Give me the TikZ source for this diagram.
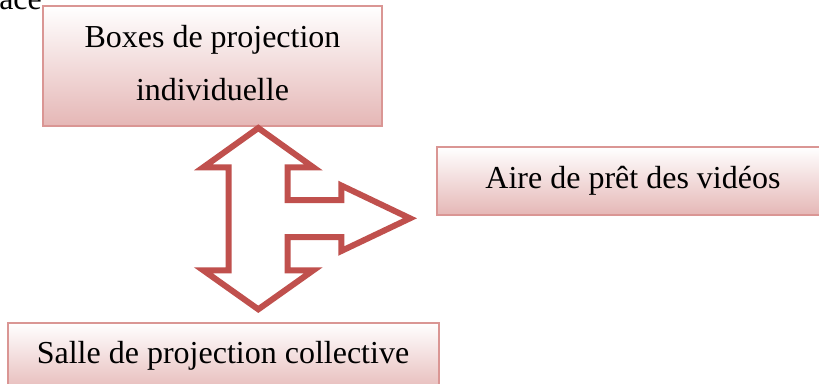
\documentclass[tikz,border=0pt]{standalone}
\usepackage{fontspec}
\setmainfont{Liberation Serif}
\definecolor{boxline}{RGB}{218,150,148}
\definecolor{boxbot}{RGB}{229,183,182}
\definecolor{arrowred}{RGB}{192,80,77}
\tikzset{
  box/.style={draw=boxline, line width=1.8pt, rectangle, inner sep=0pt,
    top color=white, bottom color=boxbot, shading angle=0},
  txt/.style={inner sep=0pt, anchor=base, font=\fontsize{24}{37}\selectfont},
  bigarrow/.style={draw=arrowred, line width=4.5pt, fill=white, line join=miter, miter limit=10}
}
\begin{document}
\begin{tikzpicture}[x=0.75pt, y=-0.75pt]
\clip (0,0) rectangle (819,383);
\fill[white] (0,0) rectangle (819,383);
\node[txt, anchor=base west] (ace) at (-1,9) {ace};
% boxes
\node[box, minimum width=339*0.75pt, minimum height=120*0.75pt] (b1) at (212.5,66) {};
\node[box, minimum width=390*0.75pt, minimum height=68*0.75pt] (b2) at (632,181) {};
\node[box, minimum width=431*0.75pt, minimum height=72*0.75pt] (b3) at (223.5,359) {};
\node[txt] (t1a) at (212.5,47) {Boxes de projection};
\node[txt] (t1b) at (212.5,100) {individuelle};
\node[txt] (t2) at (633,188) {Aire de prêt des vidéos};
\node[txt] (t3) at (223,363) {Salle de projection collective};
% arrow shape
\draw[bigarrow] (258.3,128) -- (313.3,167.3) -- (287.7,167.3) -- (287.7,200) -- (341.3,200)
  -- (341.3,185.5) -- (410,218.3) -- (341.3,251) -- (341.3,237) -- (287.7,237)
  -- (287.7,270.3) -- (313.3,270.3) -- (258.3,309.3) -- (203.3,270.3) -- (228.7,270.3)
  -- (228.7,167.3) -- (203.3,167.3) -- cycle;
\end{tikzpicture}
\end{document}
